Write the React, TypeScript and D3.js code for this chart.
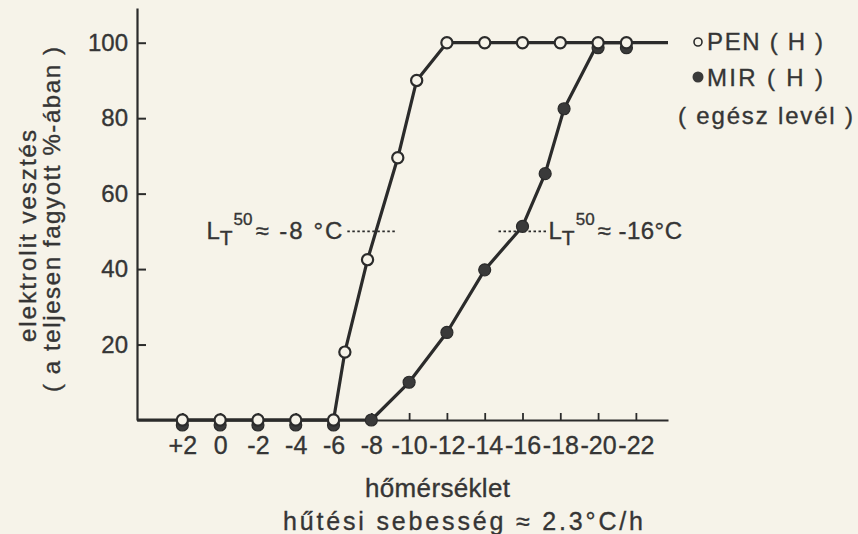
import { useEffect, useRef } from 'react';
import * as d3 from 'd3';

// temperatures (°C) and electrolyte loss (% of fully frozen)
const tempTicks = [2, 0, -2, -4, -6, -8, -10, -12, -14, -16, -18, -20, -22];
const pctTicks = [20, 40, 60, 80, 100];

const penTemps = [2, 0, -2, -4, -6, -6.6, -7.8, -9.4, -10.4, -12, -14, -16, -18, -20, -21.5];
const penLoss = [0, 0, 0, 0, 0, 18, 42.5, 69.5, 90, 100, 100, 100, 100, 100, 100];

const mirTemps = [2, 0, -2, -4, -6, -8, -10, -12, -14, -16, -17.2, -18.2, -20, -21.5];
const mirLoss = [0, 0, 0, 0, 0, 0, 10, 23.2, 39.8, 51.3, 65.3, 82.5, 100, 100];

const ltValues = [-8, -16];
const ltLevel = 50;

const INK = '#2b2b2b';
const TEXT = '#353535';
const PAPER = '#f6f3e9';
const FONT = '"Liberation Sans", Arial, sans-serif';

const W = 858;
const H = 534;

const fmtTemp = (d: number) => (d > 0 ? `+${d}` : d < 0 ? `-${Math.abs(d)}` : '0');

export default function App() {
  const ref = useRef<SVGSVGElement>(null);

  useEffect(() => {
    if (!ref.current) return;
    const svg = d3.select(ref.current);
    svg.selectAll('*').remove();

    svg.append('rect').attr('width', W).attr('height', H).attr('fill', PAPER);

    const x = d3.scaleLinear().domain([4.4, -23.7]).range([137, 668]);
    const y = d3.scaleLinear().domain([0, 109.2]).range([420, 8]);

    const pen = penTemps.map((t, i) => ({ t, v: penLoss[i] }));
    const mir = mirTemps.map((t, i) => ({ t, v: mirLoss[i] }));

    const styleText = (sel: any, size: number) =>
      sel.attr('font-family', FONT).attr('font-size', size).attr('fill', TEXT)
        .attr('stroke', TEXT).attr('stroke-width', 0.35);

    // 1) axes
    const yAxis = svg.append('g')
      .attr('transform', `translate(${x.range()[0]},0)`)
      .call(d3.axisLeft(y).tickValues(pctTicks).tickSize(-9).tickSizeOuter(0).tickPadding(9));
    yAxis.select('.domain').attr('stroke', INK).attr('stroke-width', 2.2);
    yAxis.selectAll('.tick line').attr('stroke', INK).attr('stroke-width', 2);
    styleText(yAxis.selectAll('.tick text'), 24);

    const xAxis = svg.append('g')
      .attr('transform', `translate(0,${y(0)})`)
      .call(d3.axisBottom(x).tickValues(tempTicks).tickFormat(d => fmtTemp(+d)).tickSize(-7).tickSizeOuter(0).tickPadding(16));
    xAxis.select('.domain').attr('stroke', INK).attr('stroke-width', 2.2);
    xAxis.selectAll('.tick line').attr('stroke', INK).attr('stroke-width', 1.8);
    styleText(xAxis.selectAll('.tick text'), 25);

    // 2) lines
    const line = d3.line<{ t: number; v: number }>().x(d => x(d.t)).y(d => y(d.v));
    const [t0, t1] = x.domain();
    svg.append('path')
      .datum([{ t: t0, v: 0 }, ...pen, { t: t1, v: 100 }])
      .attr('d', line)
      .attr('fill', 'none').attr('stroke', INK).attr('stroke-width', 3.2).attr('stroke-linejoin', 'round');
    svg.append('path')
      .datum(mir)
      .attr('d', line)
      .attr('fill', 'none').attr('stroke', INK).attr('stroke-width', 3.2).attr('stroke-linejoin', 'round');

    // 3) LT50 markers
    ltValues.forEach((lt, i) => {
      const cx = x(lt);
      const cy = y(ltLevel);
      svg.append('line')
        .attr('x1', cx - 24).attr('x2', cx + 24).attr('y1', cy).attr('y2', cy)
        .attr('stroke', INK).attr('stroke-width', 1.6).attr('stroke-dasharray', '2.5,2.5');
      const txt = svg.append('text')
        .attr('x', i === 0 ? cx - 27 : cx + 26)
        .attr('y', cy + 8)
        .attr('text-anchor', i === 0 ? 'end' : 'start');
      styleText(txt, 24);
      txt.append('tspan').text('L');
      txt.append('tspan').attr('dy', 6).attr('font-size', 21).text('T');
      txt.append('tspan').attr('dy', -20).attr('font-size', 17).attr('dx', 1).text('50');
      txt.append('tspan').attr('dy', 14).attr('dx', 3)
        .attr('letter-spacing', i === 0 ? 2 : 0.5)
        .text(i === 0 ? `≈ -${Math.abs(lt)} °C` : `≈ -${Math.abs(lt)}°C`);
    });

    // 4) markers: MIR filled, nudged below where it sits under a PEN circle
    const hidden = (d: { t: number; v: number }) => pen.some(p => p.t === d.t && p.v === d.v);
    svg.append('g').selectAll('circle')
      .data(mir)
      .enter()
      .append('circle')
      .attr('cx', d => x(d.t))
      .attr('cy', d => y(d.v) + (hidden(d) ? 5 : 0))
      .attr('r', 6)
      .attr('fill', '#3a3a3a')
      .attr('stroke', INK).attr('stroke-width', 1.2);
    svg.append('g').selectAll('circle')
      .data(pen)
      .enter()
      .append('circle')
      .attr('cx', d => x(d.t))
      .attr('cy', d => y(d.v))
      .attr('r', 5.6)
      .attr('fill', PAPER)
      .attr('stroke', INK).attr('stroke-width', 2.2);

    // 5) legend
    svg.append('circle').attr('cx', 698).attr('cy', 42).attr('r', 4).attr('fill', PAPER).attr('stroke', INK).attr('stroke-width', 1.6);
    svg.append('circle').attr('cx', 698).attr('cy', 77).attr('r', 5.5).attr('fill', '#3a3a3a');
    const legend = [
      { label: 'PEN ( H )', x: 707, y: 50, len: 116 },
      { label: 'MIR ( H )', x: 707, y: 86, len: 116 },
      { label: '( egész levél )', x: 678, y: 124, len: 175 },
    ];
    legend.forEach(l => {
      styleText(svg.append('text')
        .attr('x', l.x).attr('y', l.y)
        .attr('textLength', l.len).attr('lengthAdjust', 'spacing'), 24)
        .text(l.label);
    });

    // 6) axis titles
    styleText(svg.append('text')
      .attr('x', 365).attr('y', 497)
      .attr('textLength', 145).attr('lengthAdjust', 'spacing'), 26)
      .text('hőmérséklet');
    styleText(svg.append('text')
      .attr('x', 283).attr('y', 530)
      .attr('textLength', 360).attr('lengthAdjust', 'spacing'), 25)
      .text('hűtési sebesség ≈ 2.3°C/h');

    styleText(svg.append('text')
      .attr('transform', 'translate(36,342) rotate(-90)')
      .attr('textLength', 212).attr('lengthAdjust', 'spacing'), 24)
      .text('elektrolit vesztés');
    styleText(svg.append('text')
      .attr('transform', 'translate(60,392) rotate(-90)')
      .attr('textLength', 345).attr('lengthAdjust', 'spacing'), 24)
      .text('( a teljesen fagyott %-ában )');
  }, []);

  return (
    <div style={{ position: 'fixed', left: 0, top: 0, width: W, height: H, background: PAPER }}>
      <svg ref={ref} width={W} height={H} />
    </div>
  );
}
